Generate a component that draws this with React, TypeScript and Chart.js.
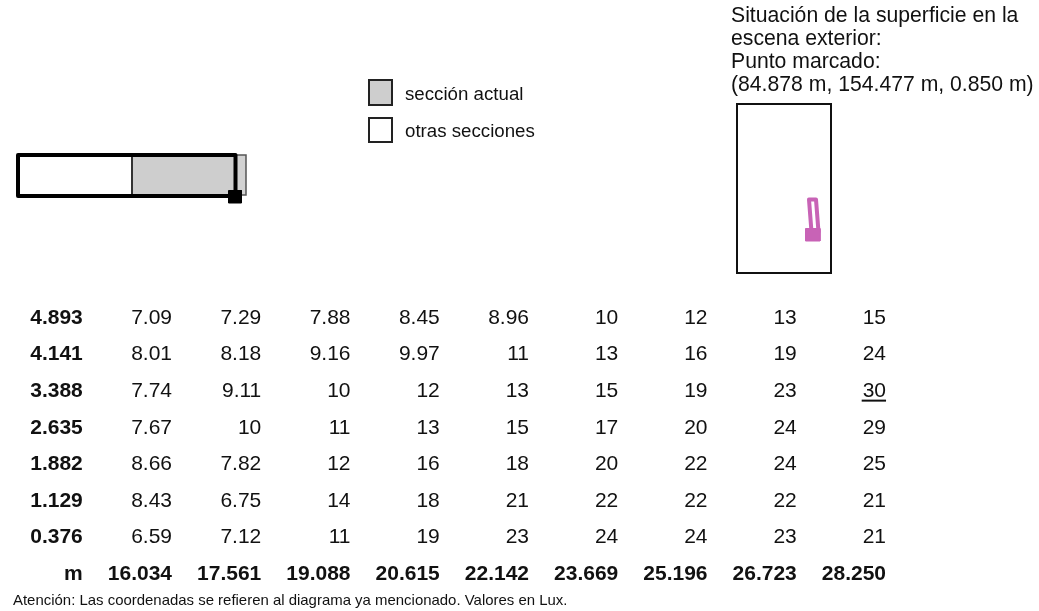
import React, { useEffect, useRef } from "react";
import { Chart, registerables } from "chart.js";

Chart.register(...registerables);

const xMetres = [16.034, 17.561, 19.088, 20.615, 22.142, 23.669, 25.196, 26.723, 28.25];
const yMetres = [4.893, 4.141, 3.388, 2.635, 1.882, 1.129, 0.376];
const lux = [
  [7.09, 7.29, 7.88, 8.45, 8.96, 10, 12, 13, 15],
  [8.01, 8.18, 9.16, 9.97, 11, 13, 16, 19, 24],
  [7.74, 9.11, 10, 12, 13, 15, 19, 23, 30],
  [7.67, 10, 11, 13, 15, 17, 20, 24, 29],
  [8.66, 7.82, 12, 16, 18, 20, 22, 24, 25],
  [8.43, 6.75, 14, 18, 21, 22, 22, 22, 21],
  [6.59, 7.12, 11, 19, 23, 24, 24, 23, 21],
];
const markedCell = { row: 2, col: 8 };
const titleLines = [
  "Situación de la superficie en la",
  "escena exterior:",
  "Punto marcado:",
  "(84.878 m, 154.477 m, 0.850 m)",
];
const legendLabels = ["sección actual", "otras secciones"];
const footnote = "Atención: Las coordenadas se refieren al diagrama ya mencionado. Valores en Lux.";
const axisUnit = "m";

const FONT = '"Liberation Sans", Arial, sans-serif';
const INK = "#111111";

// closed outline that starts half way along the top edge, so all four corners are real joins
const rect = (x0: number, y0: number, x1: number, y1: number) => [
  { x: (x0 + x1) / 2, y: y0 }, { x: x1, y: y0 }, { x: x1, y: y1 }, { x: x0, y: y1 }, { x: x0, y: y0 }, { x: (x0 + x1) / 2, y: y0 },
];

// Sketch shapes, in the diagram's own units
const sectionOuter = rect(18, 155, 235.5, 196);
const sectionCurrent = rect(132, 156, 236, 195);
const sectionDivider = [{ x: 132, y: 156 }, { x: 132, y: 195 }];
const sectionOverhang = rect(234, 155, 246, 195);
const sectionMarker = rect(228.5, 190.5, 241.5, 203);
const legendCurrent = rect(369, 80, 392, 105);
const legendOther = rect(369, 118, 392, 142);
const plan = rect(737, 104, 831, 273);
const planStrip = [
  { x: 812.5, y: 199.5 }, { x: 816, y: 199.5 }, { x: 818.5, y: 232 }, { x: 811.5, y: 232 }, { x: 809, y: 199.5 }, { x: 812.5, y: 199.5 },
];
const planBlock = rect(805.5, 228.5, 820, 241);

const shape = (data: any[], fillColor: string | false, stroke: string, width: number, join = "miter") => ({
  type: "scatter",
  data,
  xAxisID: "xD",
  yAxisID: "yD",
  showLine: true,
  pointRadius: 0,
  tension: 0,
  fill: fillColor ? "shape" : false,
  backgroundColor: fillColor || "transparent",
  borderColor: stroke,
  borderWidth: width,
  borderJoinStyle: join,
});

const textPlugin = {
  id: "tableText",
  afterDatasetsDraw(chart: any) {
    const { ctx, scales } = chart;
    const { xT, yT, xD, yD } = scales;
    const colStep = xMetres[1] - xMetres[0];
    const rowStep = yMetres[0] - yMetres[1];
    const put = (s: string, x: number, y: number, font: string, align: CanvasTextAlign) => {
      ctx.font = font;
      ctx.textAlign = align;
      ctx.fillText(s, x, y);
    };
    ctx.save();
    ctx.fillStyle = INK;
    ctx.textBaseline = "middle";
    const valueFont = `21px ${FONT}`;
    const headFont = `bold 21px ${FONT}`;
    lux.forEach((row, r) => {
      const py = yT.getPixelForValue(yMetres[r]) + 1;
      put(yMetres[r].toFixed(3), xT.getPixelForValue(xMetres[0] - colStep), py, headFont, "right");
      row.forEach((v, c) => {
        put(String(v), xT.getPixelForValue(xMetres[c]), py, valueFont, "right");
      });
    });
    const footY = yT.getPixelForValue(yMetres[yMetres.length - 1] - rowStep) + 1;
    put(axisUnit, xT.getPixelForValue(xMetres[0] - colStep), footY, headFont, "right");
    xMetres.forEach((m) => put(m.toFixed(3), xT.getPixelForValue(m), footY, headFont, "right"));

    // underline of the marked cell
    ctx.font = valueFont;
    const label = String(lux[markedCell.row][markedCell.col]);
    const w = ctx.measureText(label).width;
    const ux = xT.getPixelForValue(xMetres[markedCell.col]);
    const uy = yT.getPixelForValue(yMetres[markedCell.row]) + 10.5;
    ctx.strokeStyle = INK;
    ctx.lineWidth = 2;
    ctx.beginPath();
    ctx.moveTo(ux - w - 1, uy);
    ctx.lineTo(ux, uy);
    ctx.stroke();

    titleLines.forEach((s, i) => {
      put(s, xD.getPixelForValue(731), yD.getPixelForValue(16 + i * 23.2), `21.2px ${FONT}`, "left");
    });
    legendLabels.forEach((s, i) => {
      put(s, xD.getPixelForValue(405), yD.getPixelForValue(94.5 + i * 37), `18.7px ${FONT}`, "left");
    });
    put(footnote, xD.getPixelForValue(13), yD.getPixelForValue(600.5), `14.95px ${FONT}`, "left");
    ctx.restore();
  },
};

export default function App() {
  const ref = useRef<HTMLCanvasElement>(null);
  useEffect(() => {
    document.body.style.margin = "0";
    document.body.style.overflow = "hidden";
    const cells = lux.flatMap((row, r) => row.map((v, c) => ({ x: xMetres[c], y: yMetres[r], v })));
    const chart = new Chart(ref.current as HTMLCanvasElement, {
      type: "scatter",
      data: {
        datasets: [
          { label: "lux", data: cells, xAxisID: "xT", yAxisID: "yT", pointRadius: 0 },
          shape(sectionMarker, "#000000", "#000000", 1),
          shape(sectionOuter, false, "#000000", 4, "round"),
          shape(sectionDivider, false, "#333333", 2),
          shape(sectionCurrent, "#cecece", "transparent", 0),
          shape(sectionOverhang, "#d2d2d2", "#555555", 1.5),
          shape(legendCurrent, "#cecece", "#222222", 2),
          shape(legendOther, "#ffffff", "#222222", 2),
          shape(plan, false, "#111111", 2),
          shape(planBlock, "#c863b6", "#c863b6", 1),
          shape(planStrip, false, "#c863b6", 4, "round"),
        ] as any,
      },
      options: {
        animation: false,
        responsive: false,
        devicePixelRatio: 1,
        layout: { padding: 0 },
        plugins: { legend: { display: false }, title: { display: false }, tooltip: { enabled: false } },
        scales: {
          xT: { type: "linear", display: false, min: 13.091, max: 30.867 },
          yT: { type: "linear", display: false, min: -1.157, max: 11.416 },
          xD: { type: "linear", display: false, min: 0, max: 1039 },
          yD: { type: "linear", display: false, min: 0, max: 611, reverse: true },
        },
      } as any,
      plugins: [textPlugin],
    });
    return () => chart.destroy();
  }, []);
  return (
    <div style={{ position: "absolute", left: 0, top: 0, width: 1039, height: 611, background: "#fff" }}>
      <canvas ref={ref} width={1039} height={611} style={{ display: "block", filter: "blur(0.3px)" }} />
    </div>
  );
}
